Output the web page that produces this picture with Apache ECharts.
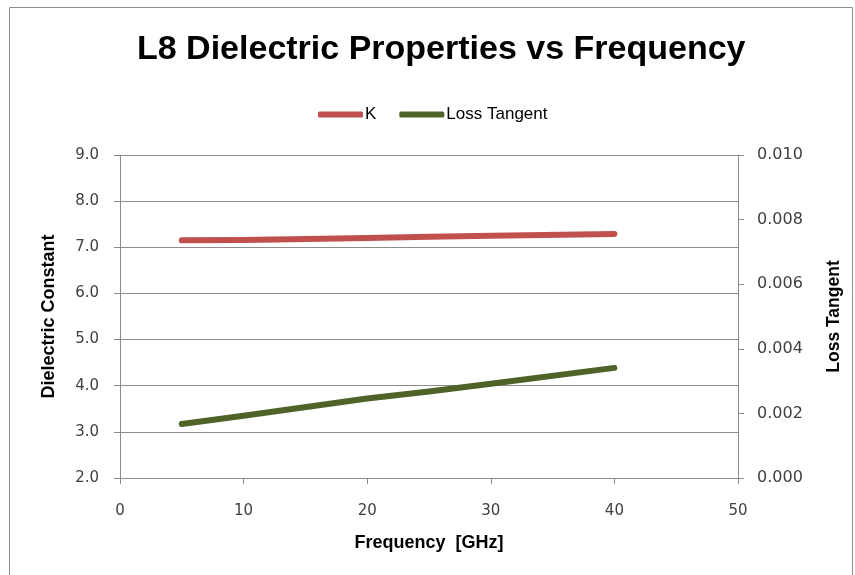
<!DOCTYPE html>
<html>
<head>
<meta charset="utf-8">
<script src="https://cdn.jsdelivr.net/npm/echarts@6/dist/echarts.min.js"></script>
<style>
html,body{margin:0;padding:0;background:#fff;}
#chart{width:855px;height:575px;}
</style>
</head>
<body>
<div id="chart"></div>
<script>
var frequency = [5, 10, 20, 25, 30, 40];
var kValues = [7.15, 7.16, 7.20, 7.23, 7.25, 7.29];
var lossTangent = [0.00167, 0.00193, 0.00246, 0.00268, 0.00292, 0.00341];
var xTicks = [0, 10, 20, 30, 40, 50];
var leftTicks = [2.0, 3.0, 4.0, 5.0, 6.0, 7.0, 8.0, 9.0];
var rightTicks = [0.000, 0.002, 0.004, 0.006, 0.008, 0.010];

function pairs(xs, ys) { return xs.map(function (x, i) { return [x, ys[i]]; }); }

var gridColor = '#8c8c8c';
var labelFont = 'DejaVu Sans';
var chart = echarts.init(document.getElementById('chart'), null, {renderer: 'canvas'});
chart.setOption({
  animation: false,
  backgroundColor: '#ffffff',
  title: {
    text: 'L8 Dielectric Properties vs Frequency',
    left: 132,
    top: 28,
    textStyle: {fontFamily: 'Liberation Sans', fontWeight: 'bold', fontSize: 34, color: '#000'}
  },
  legend: {
    left: 313,
    top: 101,
    icon: 'roundRect',
    itemWidth: 45,
    itemHeight: 6,
    itemGap: 23,
    textStyle: {fontFamily: 'Liberation Sans', fontSize: 17, color: '#000', padding: [0, 0, 0, -3]},
    data: ['K', 'Loss Tangent']
  },
  graphic: [{
    type: 'rect',
    shape: {x: 9.5, y: 7.5, width: 843, height: 600},
    style: {fill: 'none', stroke: '#8c8c8c', lineWidth: 1},
    silent: true
  }],
  grid: {left: 120, right: 117, top: 155, bottom: 97},
  xAxis: {
    type: 'value',
    min: xTicks[0], max: xTicks[xTicks.length - 1], interval: 10,
    name: 'Frequency  [GHz]',
    nameLocation: 'middle',
    nameGap: 56,
    nameTextStyle: {fontFamily: 'Liberation Sans', fontWeight: 'bold', fontSize: 18, color: '#000'},
    axisLine: {show: true, lineStyle: {color: gridColor, width: 1}},
    axisTick: {show: true, length: 6, lineStyle: {color: gridColor}},
    axisLabel: {margin: 26, fontFamily: labelFont, fontSize: 15, color: '#404040'},
    splitLine: {show: false}
  },
  yAxis: [{
    type: 'value',
    min: leftTicks[0], max: leftTicks[leftTicks.length - 1], interval: 1,
    name: 'Dielectric Constant',
    nameLocation: 'middle',
    nameGap: 62,
    nameRotate: 90,
    nameTextStyle: {fontFamily: 'Liberation Sans', fontWeight: 'bold', fontSize: 18, color: '#000'},
    axisLine: {show: true, lineStyle: {color: gridColor, width: 1}},
    axisTick: {show: true, length: 6, lineStyle: {color: gridColor}},
    axisLabel: {margin: 21, fontFamily: labelFont, fontSize: 15, color: '#404040',
      formatter: function (v) { return v.toFixed(1); }},
    splitLine: {show: true, lineStyle: {color: gridColor, width: 1}}
  }, {
    type: 'value',
    min: rightTicks[0], max: rightTicks[rightTicks.length - 1], interval: 0.002,
    name: 'Loss Tangent',
    nameLocation: 'middle',
    nameGap: 87,
    nameRotate: 90,
    nameTextStyle: {fontFamily: 'Liberation Sans', fontWeight: 'bold', fontSize: 17.5, color: '#000'},
    axisLine: {show: true, lineStyle: {color: gridColor, width: 1}},
    axisTick: {show: true, length: 6, lineStyle: {color: gridColor}},
    axisLabel: {margin: 19, fontFamily: labelFont, fontSize: 16, color: '#404040',
      formatter: function (v) { return v.toFixed(3); }},
    splitLine: {show: false}
  }],
  series: [{
    name: 'K',
    type: 'line',
    yAxisIndex: 0,
    data: pairs(frequency, kValues),
    showSymbol: false,
    symbol: 'none',
    color: '#C0504D',
    lineStyle: {color: '#C0504D', width: 6, cap: 'round', join: 'round'}
  }, {
    name: 'Loss Tangent',
    type: 'line',
    yAxisIndex: 1,
    data: pairs(frequency, lossTangent),
    showSymbol: false,
    symbol: 'none',
    color: '#4F6228',
    lineStyle: {color: '#4F6228', width: 6, cap: 'round', join: 'round'}
  }]
});
</script>
</body>
</html>
